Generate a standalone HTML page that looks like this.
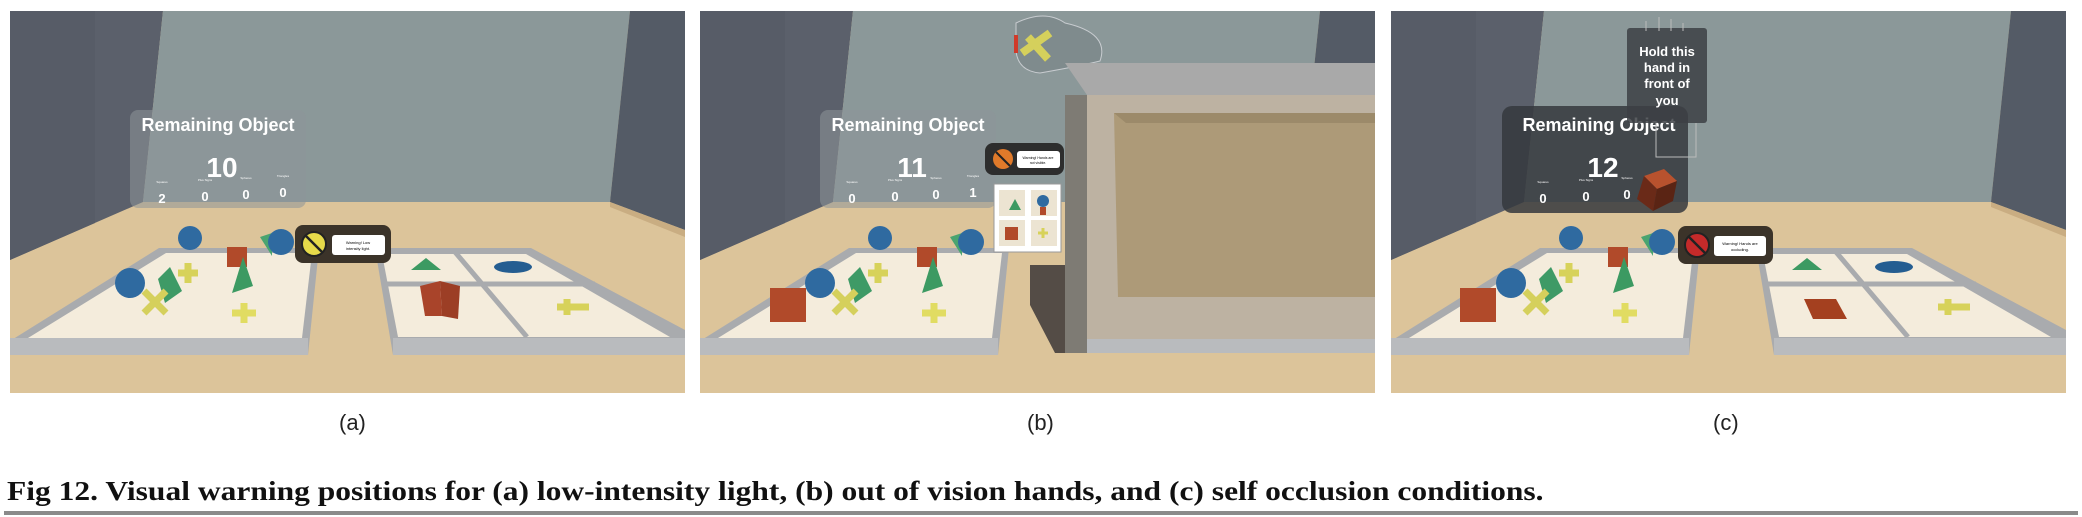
<!DOCTYPE html>
<html><head><meta charset="utf-8"><style>
html,body{margin:0;padding:0;background:#fff;width:2082px;height:517px;overflow:hidden;position:relative}
svg.p{position:absolute;top:11px;width:675px;height:382px}
.lab{position:absolute;top:410px;font:22px "Liberation Sans",sans-serif;color:#222}
.cap{position:absolute;left:7px;top:476px;font:bold 27px "Liberation Serif",serif;color:#111;white-space:nowrap;transform:scaleX(1.167);transform-origin:0 0}
.rule{position:absolute;left:4px;top:511px;width:2074px;height:4px;background:#8a8a8a}
</style></head><body>
<svg width="0" height="0" style="position:absolute"><defs>
<g id="room">
<rect x="0" y="0" width="675" height="382" fill="#dcc49a"/>
<polygon points="0,0 153,0 133,191 0,249" fill="#5b606b"/>
<polygon points="0,0 85,0 85,212 0,249" fill="#575c67"/>
<polygon points="153,0 620,0 600,191 133,191" fill="#8b9899"/>
<polygon points="620,0 675,0 675,219 600,191" fill="#545b66"/>
<polygon points="600,191 675,219 675,226 600,196" fill="#c9ad82"/>
</g>
<g id="ltray">
<polygon points="149,237 309,237 298,344 0,344 0,330" fill="#a9abae"/>
<polygon points="156,242 302,242 292,327 18,327" fill="#f4ecdc"/>
<rect x="0" y="327" width="298" height="17" fill="#b9bbbe"/>
</g>
<g id="ltrayobj">
<circle cx="180" cy="227" r="12" fill="#2f6aa0"/>
<rect x="217" y="236" width="20" height="20" fill="#b14a2a"/>
<polygon points="250,226 262,222 262,245" fill="#4aa470"/>
<circle cx="271" cy="231" r="13" fill="#2f6aa0"/>
<circle cx="120" cy="272" r="15" fill="#2f6aa0"/>
<polygon points="148,268 160,256 172,280 155,292" fill="#3e9a66"/>
<polygon points="233,246 243,275 222,282" fill="#3c9a62"/>
<path d="M168 262h20M178 252v20" stroke="#d7d25a" stroke-width="7"/>
<path d="M134 280l22 22M156 280l-22 22" stroke="#d5d05c" stroke-width="7"/>
<path d="M222 302h24M234 292v20" stroke="#e1dc62" stroke-width="7"/>
</g>
<g id="rtray">
<polygon points="365,237 521,237 675,319 675,344 383,344" fill="#a9abae"/>
<polygon points="372,243 516,243 660,326 388,326" fill="#f4ecdc"/>
<path d="M445,241 L517,326 M375,273 L585,273" stroke="#a9abae" stroke-width="5"/>
<rect x="383" y="327" width="292" height="17" fill="#b9bbbe"/>
<polygon points="416,247 431,259 401,259" fill="#3c9a62"/>
<ellipse cx="503" cy="256" rx="19" ry="6" fill="#245d91"/>
<path d="M547 296h32M557 288v16" stroke="#d7d25a" stroke-width="7"/>
</g>
<g id="score">
<text x="208" y="120" font-family="Liberation Sans" font-weight="bold" font-size="18" fill="#fff" text-anchor="middle">Remaining Object</text>
<g font-family="Liberation Sans" font-size="3" fill="#fff" text-anchor="middle">
<text x="152" y="172">Squares</text><text x="195" y="170">Plus Signs</text><text x="236" y="168">Spheres</text><text x="273" y="166">Triangles</text></g>
</g>
</defs></svg>

<!-- Panel a -->
<svg class="p" style="left:10px" viewBox="0 0 675 382">
<use href="#room"/>
<rect x="120" y="99" width="176" height="98" rx="8" fill="#8e9599" opacity="0.55"/>
<use href="#score"/>
<text x="212" y="166" font-family="Liberation Sans" font-weight="bold" font-size="28" fill="#fff" text-anchor="middle">10</text>
<g font-family="Liberation Sans" font-weight="bold" font-size="13" fill="#fff" text-anchor="middle"><text x="152" y="192">2</text><text x="195" y="190">0</text><text x="236" y="188">0</text><text x="273" y="186">0</text></g>
<use href="#ltray"/><use href="#ltrayobj"/><use href="#rtray"/>
<polygon points="410,275 430,270 432,305 415,305" fill="#a9442a"/>
<polygon points="430,270 450,275 448,308 432,305" fill="#9c3e25"/>
<rect x="285" y="214" width="96" height="38" rx="8" fill="#3b3329"/>
<circle cx="304" cy="233" r="12" fill="#e6da4a" stroke="#222" stroke-width="2"/>
<path d="M295 224l18 18" stroke="#222" stroke-width="2.5"/>
<rect x="322" y="224" width="53" height="20" rx="3" fill="#fff"/>
<text x="348" y="233" font-family="Liberation Sans" font-size="4" text-anchor="middle">Warning! Low</text>
<text x="348" y="239" font-family="Liberation Sans" font-size="4" text-anchor="middle">intensity light.</text>
</svg>
<div class="lab" style="left:339px">(a)</div>

<!-- Panel b -->
<svg class="p" style="left:700px" viewBox="0 0 675 382">
<use href="#room"/>
<path d="M316 12 Q345 -2 365 12 Q410 22 400 50 Q380 55 340 62 Q318 60 316 40Z" fill="#7f8b8d" stroke="#c8ccd0" stroke-width="1"/>
<path d="M322 42l28 -20M328 26l20 22" stroke="#d5d05c" stroke-width="8"/>
<rect x="314" y="24" width="4" height="18" fill="#d03a2a"/>
<rect x="120" y="99" width="176" height="98" rx="8" fill="#8e9599" opacity="0.55"/>
<use href="#score"/>
<text x="212" y="166" font-family="Liberation Sans" font-weight="bold" font-size="28" fill="#fff" text-anchor="middle">11</text>
<g font-family="Liberation Sans" font-weight="bold" font-size="13" fill="#fff" text-anchor="middle"><text x="152" y="192">0</text><text x="195" y="190">0</text><text x="236" y="188">0</text><text x="273" y="186">1</text></g>
<use href="#ltray"/><use href="#ltrayobj"/>
<rect x="70" y="277" width="36" height="34" fill="#b14a2a"/>
<polygon points="312,254 365,254 365,342 355,342 330,294 330,254" fill="#544c46"/>
<polygon points="365,52 675,52 675,84 387,84" fill="#a9a9a9"/>
<polygon points="365,84 387,84 387,342 365,342" fill="#7e7b74"/>
<rect x="387" y="84" width="288" height="258" fill="#bdb2a2"/>
<polygon points="414,102 675,102 675,286 418,286" fill="#ad9a78"/>
<polygon points="414,102 675,102 675,112 426,112" fill="#9c8a6a"/>
<rect x="387" y="328" width="288" height="14" fill="#b9bbbe"/>
<rect x="285" y="132" width="79" height="32" rx="8" fill="#2d2d2d"/>
<circle cx="303" cy="148" r="10" fill="#e07a2a"/>
<path d="M296 141l14 14" stroke="#222" stroke-width="2"/>
<rect x="317" y="140" width="43" height="17" rx="3" fill="#fff"/>
<text x="338" y="148" font-family="Liberation Sans" font-size="3.5" text-anchor="middle">Warning! Hands are</text>
<text x="338" y="153" font-family="Liberation Sans" font-size="3.5" text-anchor="middle">not visible.</text>
<rect x="294" y="173" width="67" height="68" fill="#fff" stroke="#999"/>
<rect x="299" y="179" width="26" height="26" fill="#ece4d2"/><rect x="331" y="179" width="26" height="26" fill="#ece4d2"/>
<rect x="299" y="209" width="26" height="26" fill="#ece4d2"/><rect x="331" y="209" width="26" height="26" fill="#ece4d2"/>
<polygon points="315,188 321,199 309,199" fill="#3c9a62"/>
<circle cx="343" cy="190" r="6" fill="#2f6aa0"/><rect x="340" y="196" width="6" height="8" fill="#b14a2a"/>
<rect x="305" y="216" width="13" height="13" fill="#b14a2a"/>
<path d="M338 222h10M343 217v10" stroke="#d7d25a" stroke-width="3"/>
</svg>
<div class="lab" style="left:1027px">(b)</div>

<!-- Panel c -->
<svg class="p" style="left:1391px" viewBox="0 0 675 382">
<use href="#room"/>
<rect x="111" y="95" width="186" height="107" rx="10" fill="#35383d" opacity="0.85"/>
<use href="#score"/>
<text x="212" y="166" font-family="Liberation Sans" font-weight="bold" font-size="28" fill="#fff" text-anchor="middle">12</text>
<g font-family="Liberation Sans" font-weight="bold" font-size="13" fill="#fff" text-anchor="middle"><text x="152" y="192">0</text><text x="195" y="190">0</text><text x="236" y="188">0</text></g>
<rect x="236" y="17" width="80" height="95" rx="3" fill="#3c3f44" opacity="0.85"/>
<path d="M255 20v-10M268 20v-14M280 20v-12M292 20v-8M265 112v34h40v-34" stroke="#bbb" fill="none"/>
<g font-family="Liberation Sans" font-weight="bold" font-size="13" fill="#fff" text-anchor="middle">
<text x="276" y="45">Hold this</text><text x="276" y="61">hand in</text><text x="276" y="77">front of</text><text x="276" y="94">you</text></g>
<polygon points="253,165 273,158 286,170 266,178" fill="#b8522e"/>
<polygon points="253,165 266,178 262,200 246,188" fill="#6a2a18"/>
<polygon points="266,178 286,170 282,190 262,200" fill="#5a2414"/>
<use href="#ltray"/><use href="#ltrayobj"/>
<rect x="69" y="277" width="36" height="34" fill="#b14a2a"/>
<use href="#rtray"/>
<polygon points="413,288 445,288 456,308 422,308" fill="#a4401f"/>
<rect x="287" y="215" width="95" height="38" rx="8" fill="#3b3329"/>
<circle cx="306" cy="234" r="12" fill="#c42a2a" stroke="#222" stroke-width="2"/>
<path d="M297 225l18 18" stroke="#222" stroke-width="2.5"/>
<rect x="323" y="225" width="52" height="20" rx="3" fill="#fff"/>
<text x="349" y="234" font-family="Liberation Sans" font-size="4" text-anchor="middle">Warning! Hands are</text>
<text x="349" y="240" font-family="Liberation Sans" font-size="4" text-anchor="middle">occluding.</text>
</svg>
<div class="lab" style="left:1713px">(c)</div>

<div class="cap">Fig 12. Visual warning positions for (a) low-intensity light, (b) out of vision hands, and (c) self occlusion conditions.</div>
<div class="rule"></div>
</body></html>
